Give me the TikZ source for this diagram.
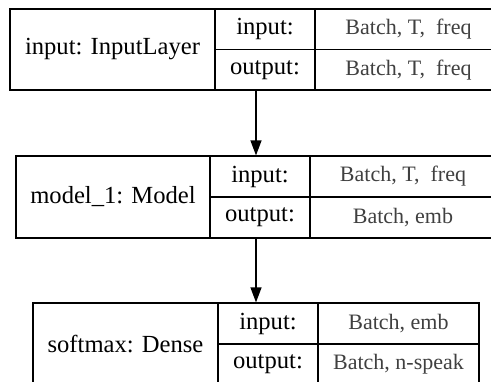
\documentclass[tikz,border=0pt]{standalone}
\usepackage{fontspec}
\setmainfont{Liberation Serif}
\usetikzlibrary{arrows.meta}
\definecolor{valgray}{HTML}{404040}
\tikzset{
  layer/.style={draw, line width=1.2pt, inner sep=0pt},
  cell/.style={draw, line width=1.2pt, inner sep=0pt, font=\fontsize{24.6}{28}\selectfont},
  val/.style={cell, text=valgray, font=\fontsize{22}{26}\selectfont},
}
\begin{document}
\begin{tikzpicture}[x=1pt, y=-1pt]
                \clip (0,0) rectangle (491,381);

                % Define layer boxes
                \node[layer, minimum width=492, minimum height=81] (L1) at (256,49.5) {};
                \node[layer, minimum width=480, minimum height=82] (L2) at (256,197) {};
                \node[layer, minimum width=446, minimum height=82] (L3) at (256,344) {};

                % input: InputLayer
                \node[cell, minimum width=205, minimum height=81] (N1) at (112.5,49.5) {input: InputLayer};
                \node[cell, minimum width=100, minimum height=40.5] (I1) at (265,29.25) {input:};
                \node[cell, minimum width=100, minimum height=40.5] (O1) at (265,69.75) {output:};
                \node[val, minimum width=187, minimum height=40.5] (IV1) at (408.5,29.25) {Batch, T,\ \ freq};
                \node[val, minimum width=187, minimum height=40.5] (OV1) at (408.5,69.75) {Batch, T,\ \ freq};

                % model_1: Model
                \node[cell, minimum width=194, minimum height=82] (N2) at (113,197) {model\_1: Model};
                \node[cell, minimum width=100, minimum height=41] (I2) at (260,176.5) {input:};
                \node[cell, minimum width=100, minimum height=41] (O2) at (260,217.5) {output:};
                \node[val, minimum width=186, minimum height=41] (IV2) at (403,176.5) {Batch, T,\ \ freq};
                \node[val, minimum width=186, minimum height=41] (OV2) at (403,217.5) {Batch, emb};

                % softmax: Dense
                \node[cell, minimum width=185, minimum height=82] (N3) at (125.5,344) {softmax: Dense};
                \node[cell, minimum width=100, minimum height=41] (I3) at (268,323.5) {input:};
                \node[cell, minimum width=100, minimum height=41] (O3) at (268,364.5) {output:};
                \node[val, minimum width=161, minimum height=41] (IV3) at (398.5,323.5) {Batch, emb};
                \node[val, minimum width=161, minimum height=41] (OV3) at (398.5,364.5) {Batch, n-speak};

                % Draw arrows
                \draw[line width=1.2pt, -{Triangle[length=15pt, width=11pt]}] (L1.south) -- (L2.north);
                \draw[line width=1.2pt, -{Triangle[length=15pt, width=11pt]}] (L2.south) -- (L3.north);
\end{tikzpicture}
\end{document}
